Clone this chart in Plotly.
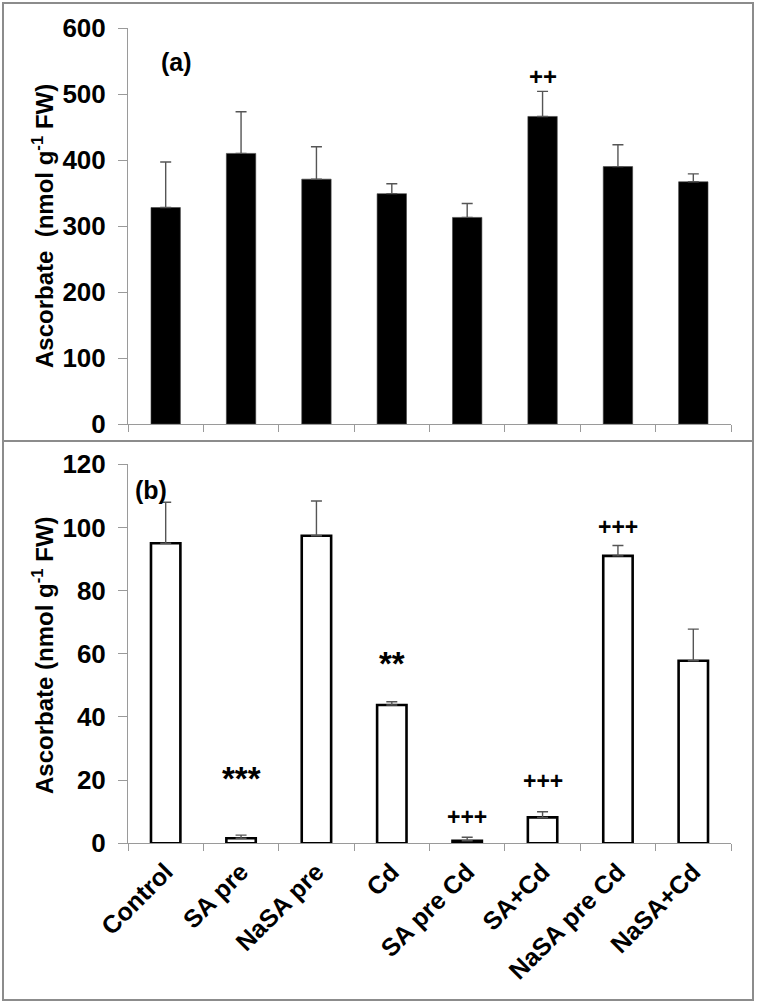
import plotly.graph_objects as go

categories = ["Control", "SA pre", "NaSA pre", "Cd", "SA pre Cd", "SA+Cd", "NaSA pre Cd", "NaSA+Cd"]

# Panel (a)
asc_a = [328, 410, 371, 349, 313, 466, 390, 367]
err_a = [69, 63, 49, 15, 21, 38, 33, 12]

# Panel (b)
asc_b = [95.0, 1.6, 97.4, 43.8, 0.8, 8.2, 91.0, 57.8]
err_b = [13.0, 1.0, 11.0, 1.0, 1.1, 1.8, 3.3, 10.0]

W, H = 757, 1004
FONT = "Liberation Sans, Arial, sans-serif"

def px_x(p):
    return p / W

def px_y(p):
    return 1 - p / H

fig = go.Figure()

fig.add_trace(go.Bar(
    x=categories, y=asc_a, xaxis="x", yaxis="y",
    marker=dict(color="black", line=dict(color="#444444", width=0.6)),
    width=0.39,
    error_y=dict(type="data", array=err_a, arrayminus=[0]*8, symmetric=False,
                 color="#555555", thickness=1.4, width=5.5),
    showlegend=False,
))

fig.add_trace(go.Bar(
    x=categories, y=asc_b, xaxis="x2", yaxis="y2",
    marker=dict(color="white", line=dict(color="black", width=2.6)),
    width=0.39,
    error_y=dict(type="data", array=err_b, arrayminus=[0]*8, symmetric=False,
                 color="#555555", thickness=1.4, width=5.5),
    showlegend=False,
))

axis_common = dict(showgrid=False, zeroline=False, showline=True, linecolor="#9a9a9a",
                   linewidth=1, ticks="outside", tickcolor="#9a9a9a", tickwidth=1,
                   automargin=False)

ytickfont = dict(family=FONT, size=26, color="black", weight="bold")
xtickfont = dict(family=FONT, size=25, color="black", weight="bold")

fig.update_layout(
    width=W, height=H,
    margin=dict(l=0, r=0, t=0, b=0),
    paper_bgcolor="white", plot_bgcolor="white",
    template="none",
    bargap=0.61,
    xaxis=dict(domain=[px_x(128), px_x(731)], anchor="y", range=[-0.5, 7.5],
               type="category", tickson="boundaries", ticklen=7,
               showticklabels=False, **axis_common),
    yaxis=dict(domain=[px_y(424), px_y(28)], anchor="x", range=[0, 600], dtick=100,
               ticklen=9, tickfont=ytickfont, ticklabelstandoff=7, **axis_common),
    xaxis2=dict(domain=[px_x(128), px_x(731)], anchor="y2", range=[-0.5, 7.5],
                type="category", tickson="boundaries", ticklen=7,
                tickangle=-45, tickfont=xtickfont, ticklabelstandoff=3, **axis_common),
    yaxis2=dict(domain=[px_y(843.3), px_y(464.3)], anchor="x2", range=[0, 120], dtick=20,
                ticklen=9, tickfont=ytickfont, ticklabelstandoff=7, **axis_common),
)

# panel frames
fig.add_shape(type="rect", xref="paper", yref="paper",
              x0=px_x(3), x1=px_x(753), y0=px_y(441), y1=px_y(3),
              line=dict(color="#8c8c8c", width=2))
fig.add_shape(type="rect", xref="paper", yref="paper",
              x0=px_x(3), x1=px_x(753), y0=px_y(1000), y1=px_y(441),
              line=dict(color="#8c8c8c", width=2))

title_font = dict(family=FONT, size=24, color="black", weight="bold")
fig.add_annotation(text="Ascorbate  (nmol g<sup>-1</sup> FW)", xref="paper", yref="paper",
                   x=px_x(43), y=px_y(226), textangle=-90, showarrow=False,
                   font=title_font, xanchor="center", yanchor="middle")
fig.add_annotation(text="Ascorbate (nmol g<sup>-1</sup> FW)", xref="paper", yref="paper",
                   x=px_x(43), y=px_y(655), textangle=-90, showarrow=False,
                   font=title_font, xanchor="center", yanchor="middle")

# panel letters
fig.add_annotation(text="(a)", xref="x", yref="y", x=0.146, y=548, showarrow=False,
                   font=dict(family=FONT, size=25, color="black", weight="bold"))
fig.add_annotation(text="(b)", xref="x2", yref="y2", x=-0.199, y=112, showarrow=False,
                   font=dict(family=FONT, size=25, color="black", weight="bold"))

sig_font2 = dict(family=FONT, size=24, color="black", weight="bold")
sig_font3 = dict(family=FONT, size=23, color="black", weight="bold")
star_font = dict(family=FONT, size=33, color="black", weight="bold")

fig.add_annotation(text="++", xref="x", yref="y", x=5, y=526, showarrow=False, font=sig_font2)

fig.add_annotation(text="***", xref="x2", yref="y2", x=1, y=20.6, showarrow=False, font=star_font)
fig.add_annotation(text="**", xref="x2", yref="y2", x=3, y=56.8, showarrow=False, font=star_font)
fig.add_annotation(text="+++", xref="x2", yref="y2", x=4, y=8.3, showarrow=False, font=sig_font3)
fig.add_annotation(text="+++", xref="x2", yref="y2", x=5, y=19.8, showarrow=False, font=sig_font3)
fig.add_annotation(text="+++", xref="x2", yref="y2", x=6, y=100, showarrow=False, font=sig_font3)

fig.write_html("out.html", config={"displayModeBar": False},
               post_script="document.body.style.margin='0';")
